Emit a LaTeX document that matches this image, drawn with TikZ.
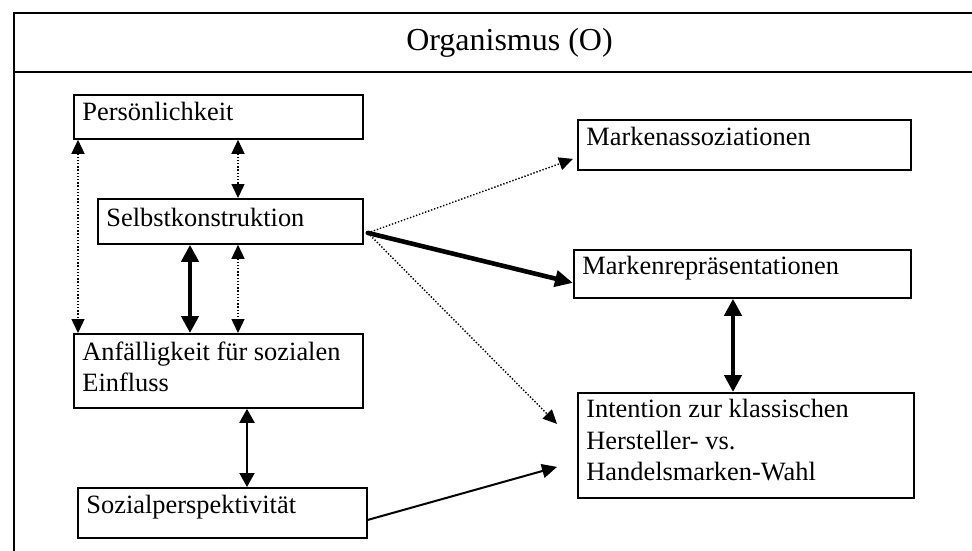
\documentclass[tikz,border=0pt]{standalone}
\usepackage{fontspec}
\setmainfont{Liberation Serif}
\usetikzlibrary{arrows.meta}

% box content: a fixed-width line box with a left pad, lines stacked on 31pt baselines
\newcommand{\boxlines}[2]{\makebox[#1pt][l]{\hspace{8.5pt}\begin{tabular}[t]{@{}l@{}}#2\end{tabular}}}

\tikzset{
  frame/.style={line width=2pt},
  stepbox/.style={draw, line width=1.8pt, inner sep=0pt, anchor=north west,
    font=\fontsize{26.4pt}{31pt}\selectfont},
  dotline/.style={line width=1.4pt, dash pattern=on 1.4pt off 1.8pt,
    {Triangle[length=14pt,width=13pt]}-{Triangle[length=14pt,width=13pt]}},
  dotto/.style={line width=1.4pt, dash pattern=on 1.4pt off 1.8pt,
    -{Triangle[length=14pt,width=13pt]}},
  boldline/.style={line width=4.6pt,
    {Triangle[length=17pt,width=17pt]}-{Triangle[length=17pt,width=17pt]}},
  boldto/.style={line width=4.6pt, line cap=round, -{Triangle[length=18pt,width=16pt]}},
  thinline/.style={line width=2pt,
    {Triangle[length=14pt,width=15pt]}-{Triangle[length=14pt,width=15pt]}},
  thinto/.style={line width=2pt, -{Triangle[length=15pt,width=14pt]}},
}

\begin{document}
\begin{tikzpicture}[x=1pt, y=-1pt]
  \useasboundingbox (0,0) rectangle (972,550);

  % outer frame with header band
  \draw[frame] (972,13) -- (14,13) -- (14,552);
  \draw[frame] (14,72) -- (972,72);
  \node[anchor=base, inner sep=0pt, font=\fontsize{32pt}{38pt}\selectfont]
    (title) at (509.5,50) {Organismus (O)};

  % left column
  \node[stepbox, text height=26pt, text depth=18pt] (pers) at (73,94)
    {\boxlines{289}{Persönlichkeit}};
  \node[stepbox, text height=28pt, text depth=17pt] (selb) at (97,198)
    {\boxlines{265}{Selbstkonstruktion}};
  \node[stepbox, text height=27pt, text depth=47pt] (anf) at (73,333)
    {\boxlines{289}{Anfälligkeit für sozialen\\Einfluss}};
  \node[stepbox, text height=26pt, text depth=24pt] (soz) at (77,487)
    {\boxlines{289}{Sozialperspektivität}};

  % right column
  \node[stepbox, text height=26pt, text depth=24pt] (ass) at (577,119)
    {\boxlines{333}{Markenassoziationen}};
  \node[stepbox, text height=25pt, text depth=23pt] (rep) at (573,249)
    {\boxlines{337}{Markenrepräsentationen}};
  \node[stepbox, text height=25pt, text depth=80pt] (int) at (577,392)
    {\boxlines{336}{Intention zur klassischen\\[0.5pt]Hersteller- vs.\\[0.5pt]Handelsmarken-Wahl}};

  % vertical links in the left column
  \draw[dotline] ([xshift=5pt]pers.south west) -- ([xshift=5pt]anf.north west);
  \draw[dotline] ([xshift=165pt]pers.south west) -- ([xshift=141pt]selb.north west);
  \draw[boldline] ([xshift=93pt]selb.south west) -- ([xshift=117pt]anf.north west);
  \draw[dotline] ([xshift=141pt]selb.south west) -- ([xshift=165pt]anf.north west);
  \draw[thinline] ([xshift=174pt]anf.south west) -- ([xshift=170pt]soz.north west);

  % links fanning out of the self-construction box
  \coordinate (src) at ([shift={(4,11.5)}]selb.east);
  \draw[dotto] (src) -- ([shift={(-4,14)}]ass.west);
  \draw[boldto] (src) -- ([shift={(0,9)}]rep.west);
  \draw[dotto] (src) -- ([shift={(-20,-21.5)}]int.west);

  % right column link and social perspective link
  \draw[boldline] ([xshift=160pt]rep.south west) -- ([xshift=156pt]int.north west);
  \draw[thinto] ([shift={(0,7)}]soz.east) -- ([shift={(-20,21.5)}]int.west);
\end{tikzpicture}
\end{document}
